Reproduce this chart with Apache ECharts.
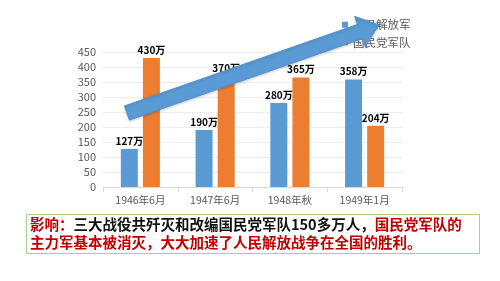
<!DOCTYPE html>
<html>
<head>
<meta charset="utf-8">
<script src="https://cdn.jsdelivr.net/npm/echarts@6/dist/echarts.min.js"></script>
<style>
  html, body { margin: 0; padding: 0; background: #fff; }
  #chart { width: 500px; height: 281px; }
</style>
</head>
<body>
<div id="chart"></div>
<script>
// 数据
const categories = ['1946年6月', '1947年6月', '1948年秋', '1949年1月']
const pla = [127, 190, 280, 358]
const kmt = [430, 370, 365, 204]
const yTicks = { min: 0, max: 450, interval: 50 }

const chart = echarts.init(document.getElementById('chart'))

// 箭头（装饰）
const u = [0.944, -0.33]
const n = [0.33, 0.944]
const S = [127, 113]
const P = [360, 31.5]
const pt = (p, v, k) => [p[0] + v[0] * k, p[1] + v[1] * k]
const arrow = [
  pt(S, n, -7.5), pt(P, n, -7.5), pt(P, n, -16), pt(P, u, 20),
  pt(P, n, 16), pt(P, n, 7.5), pt(S, n, 7.5)
]

const font = '"Noto Sans CJK SC", "Noto Sans", sans-serif'

const option = {
  animation: false,
  textStyle: { fontFamily: font },
  grid: { left: 103, right: 98, top: 52, bottom: 94 },
  legend: {
    orient: 'vertical',
    left: 337,
    top: 14,
    itemWidth: 6,
    itemHeight: 6,
    itemGap: 6,
    icon: 'rect',
    textStyle: { color: '#595959', fontSize: 11.5, fontFamily: font },
    data: ['人民解放军', '国民党军队']
  },
  xAxis: {
    type: 'category',
    data: categories,
    axisLine: { lineStyle: { color: '#d9d9d9' } },
    axisTick: { show: true, lineStyle: { color: '#d9d9d9' } },
    axisLabel: { color: '#595959', fontSize: 10.5, margin: 8 }
  },
  yAxis: {
    type: 'value',
    min: yTicks.min,
    max: yTicks.max,
    interval: yTicks.interval,
    axisLine: { show: false },
    axisTick: { show: false },
    axisLabel: { color: '#595959', fontSize: 11, margin: 7 },
    splitLine: { lineStyle: { color: '#ececec' } }
  },
  series: [
    {
      name: '人民解放军',
      type: 'bar',
      data: pla,
      barWidth: 17,
      barGap: '30%',
      itemStyle: { color: '#5b9bd5' },
      label: {
        show: true, position: 'top', distance: 3, formatter: '{c}万',
        color: '#000', fontSize: 10, fontWeight: 'bold'
      }
    },
    {
      name: '国民党军队',
      type: 'bar',
      data: kmt,
      barWidth: 17,
      barGap: '30%',
      itemStyle: { color: '#ed7d31' },
      label: {
        show: true, position: 'top', distance: 3, formatter: '{c}万',
        color: '#000', fontSize: 10, fontWeight: 'bold'
      }
    }
  ],
  graphic: [
    {
      type: 'polygon',
      z: 100,
      shape: { points: arrow },
      style: { fill: '#5b9bd5', stroke: '#5290c9', lineWidth: 1, shadowBlur: 3, shadowColor: 'rgba(0,0,0,0.2)', shadowOffsetY: 1 }
    },
    {
      type: 'rect',
      z: 50,
      shape: { x: 26.5, y: 214.5, width: 453, height: 39 },
      style: { fill: '#fff', stroke: '#a9d18e', lineWidth: 1 }
    },
    {
      type: 'text',
      z: 51,
      left: 30,
      top: 217,
      style: {
        text: '{r|影响：}{b|三大战役共歼灭和改编国民党军队150多万人，}{r|国民党军队的}\n{r|主力军基本被消灭，大大加速了人民解放战争在全国的胜利。}',
        rich: {
          r: { fill: '#c00000', fontSize: 14.5, fontWeight: 'bold', fontFamily: font, lineHeight: 18 },
          b: { fill: '#111', fontSize: 14.5, fontWeight: 'bold', fontFamily: font, lineHeight: 18 }
        }
      }
    }
  ]
}

chart.setOption(option)
</script>
</body>
</html>
